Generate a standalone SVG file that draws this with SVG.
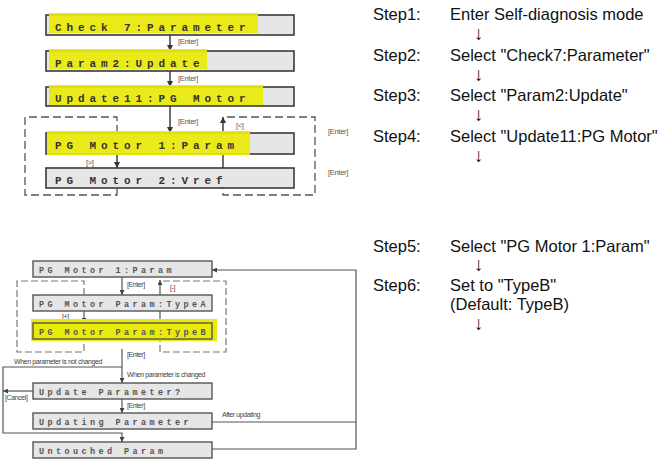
<svg xmlns="http://www.w3.org/2000/svg" width="670" height="460" viewBox="0 0 670 460">
<defs>
<marker id="ah" viewBox="0 0 8 8" refX="8" refY="4" markerWidth="6" markerHeight="6" markerUnits="userSpaceOnUse" orient="auto"><path d="M0,0 L8,4 L0,8 z" fill="#333"/></marker>
<marker id="ah2" viewBox="0 0 8 8" refX="8" refY="4" markerWidth="5" markerHeight="5" markerUnits="userSpaceOnUse" orient="auto"><path d="M0,0 L8,4 L0,8 z" fill="#444"/></marker>
</defs>
<style>
.bg{fill:#ffffff}
.box{fill:#e6e6e6;stroke:#3a3a3a;stroke-width:1.6}
.box2{fill:#e6e6e6;stroke:#555;stroke-width:1.4}
.hl{fill:#eaea0a;opacity:0.92}
.lcd{font-family:"Liberation Mono","DejaVu Sans Mono",monospace;font-weight:bold;font-size:11px;letter-spacing:4.9px;fill:#333}
.lcd2{font-family:"Liberation Mono","DejaVu Sans Mono",monospace;font-weight:bold;font-size:8.5px;letter-spacing:3.4px;fill:#555}
.ln{fill:none;stroke:#333;stroke-width:1.4}
.ln2{fill:none;stroke:#555;stroke-width:1.2}
.dash{fill:none;stroke:#555;stroke-width:1.3;stroke-dasharray:8 4}
.dash2{fill:none;stroke:#777;stroke-width:1.2;stroke-dasharray:7 3}
.lab{font-family:"Liberation Sans",Arial,sans-serif;font-size:7.5px;fill:#555;letter-spacing:-0.3px}
.lab2{font-family:"Liberation Sans",Arial,sans-serif;font-size:7px;fill:#444;letter-spacing:-0.4px}
.step{font-family:"Liberation Sans",Arial,sans-serif;font-size:16.5px;fill:#111}
.arr{font-family:"Liberation Sans",Arial,sans-serif;font-size:19px;fill:#111}
</style>
<rect class="bg" x="0" y="0" width="670" height="460"/>

<!-- top connectors -->
<g id="connectors-top">
<path class="ln" d="M170,35 V51" marker-end="url(#ah)"/>
<path class="ln" d="M170,71 V87" marker-end="url(#ah)"/>
<path class="ln" d="M170,106 V133" marker-end="url(#ah)"/>
<path class="ln" d="M223,133 V117" marker-end="url(#ah)"/>
<path class="ln" d="M223,154 V168"/>
<path class="dash" d="M227,117 H315 V195 H223 V188"/>
<path class="ln" d="M117,154 V168" marker-end="url(#ah)"/>
<path class="dash" d="M117,133 V117 H25 V195 H117 V188"/>
<text class="lab" x="178" y="44">[Enter]</text>
<text class="lab" x="178" y="81">[Enter]</text>
<text class="lab" x="178" y="124">[Enter]</text>
<text class="lab" x="236" y="128">[&lt;]</text>
<text class="lab" x="86" y="165">[&gt;]</text>
<text class="lab" x="328" y="134">[Enter]</text>
<text class="lab" x="328" y="175">[Enter]</text>
</g>

<g id="n-check7">
<rect class="box" x="46" y="15" width="248" height="20"/>
<rect class="hl" x="49" y="13" width="209" height="20"/>
<text class="lcd" x="55" y="31">Check 7:Parameter</text>
</g>
<g id="n-param2">
<rect class="box" x="46" y="51" width="248" height="20"/>
<rect class="hl" x="49" y="49" width="158" height="20"/>
<text class="lcd" x="55" y="67">Param2:Update</text>
</g>
<g id="n-update11">
<rect class="box" x="46" y="87" width="248" height="19"/>
<rect class="hl" x="49" y="85" width="214" height="20"/>
<text class="lcd" x="55" y="102">Update11:PG Motor</text>
</g>
<g id="n-pgmotor1">
<rect class="box" x="46" y="133" width="248" height="21"/>
<rect class="hl" x="47" y="131" width="203" height="24"/>
<text class="lcd" x="55" y="149">PG Motor 1:Param</text>
</g>
<g id="n-pgmotor2">
<rect class="box" x="46" y="168" width="248" height="20"/>
<text class="lcd" x="55" y="184">PG Motor 2:Vref</text>
</g>

<!-- bottom connectors -->
<g id="connectors-bottom">
<path class="ln2" d="M122,277 V295" marker-end="url(#ah2)"/>
<path class="ln2" d="M160,295 V280" marker-end="url(#ah2)"/>
<path class="ln2" d="M160,311 V323"/>
<path class="dash2" d="M163,281 H226 V352 H160 V339"/>
<path class="ln2" d="M84,311 V323" marker-end="url(#ah2)"/>
<path class="dash2" d="M84,295 V281 H17 V352 H84 V339"/>
<path class="ln2" d="M122,349 V383" marker-end="url(#ah2)"/>
<path class="ln2" d="M122,367 H3 V433 H122 V442" marker-end="url(#ah2)"/>
<path class="ln2" d="M33,391 H3" marker-end="url(#ah2)"/>
<path class="ln2" d="M122,399 V413" marker-end="url(#ah2)"/>
<path class="ln2" d="M212,422 H356"/>
<path class="ln2" d="M212,449 H356 V270 H212" marker-end="url(#ah2)"/>
<text class="lab2" x="127" y="287">[Enter]</text>
<text class="lab2" x="170" y="290">[-]</text>
<text class="lab2" x="62" y="319">[+]</text>
<text class="lab2" x="127" y="357">[Enter]</text>
<text class="lab2" x="14" y="364">When parameter is not changed</text>
<text class="lab2" x="127" y="377">When parameter is changed</text>
<text class="lab2" x="5" y="400">[Cancel]</text>
<text class="lab2" x="127" y="408">[Enter]</text>
<text class="lab2" x="222" y="417">After updating</text>
</g>

<g id="b-pgmotor1">
<rect class="box2" x="33" y="261" width="179" height="16"/>
<text class="lcd2" x="39" y="273">PG Motor 1:Param</text>
</g>
<g id="b-typea">
<rect class="box2" x="33" y="295" width="179" height="16"/>
<text class="lcd2" x="39" y="307">PG Motor Param:TypeA</text>
</g>
<g id="b-typeb">
<rect x="31" y="319" width="186" height="22" fill="#eaea0a"/>
<rect x="33" y="323" width="179" height="16" fill="#eaea0a" stroke="#555" stroke-width="1.4"/>
<text class="lcd2" x="39" y="335">PG Motor Param:TypeB</text>
</g>
<g id="b-updateq">
<rect class="box2" x="33" y="383" width="179" height="16"/>
<text class="lcd2" x="39" y="395">Update Parameter?</text>
</g>
<g id="b-updating">
<rect class="box2" x="33" y="413" width="179" height="16"/>
<text class="lcd2" x="39" y="425">Updating Parameter</text>
</g>
<g id="b-untouched">
<rect class="box2" x="33" y="442" width="179" height="16"/>
<text class="lcd2" x="39" y="454">Untouched Param</text>
</g>

<!-- steps -->
<g id="steps-top">
<text class="step" x="373" y="20">Step1:</text>
<text class="step" x="450" y="20">Enter Self-diagnosis mode</text>
<text class="arr" x="474" y="40">↓</text>
<text class="step" x="373" y="61">Step2:</text>
<text class="step" x="450" y="61">Select "Check7:Parameter"</text>
<text class="arr" x="474" y="81">↓</text>
<text class="step" x="373" y="101">Step3:</text>
<text class="step" x="450" y="101">Select "Param2:Update"</text>
<text class="arr" x="474" y="121">↓</text>
<text class="step" x="373" y="142">Step4:</text>
<text class="step" x="450" y="142">Select "Update11:PG Motor"</text>
<text class="arr" x="474" y="162">↓</text>
</g>
<g id="steps-bottom">
<text class="step" x="373" y="252">Step5:</text>
<text class="step" x="450" y="252">Select "PG Motor 1:Param"</text>
<text class="arr" x="474" y="271">↓</text>
<text class="step" x="373" y="291">Step6:</text>
<text class="step" x="450" y="291">Set to "TypeB"</text>
<text class="step" x="450" y="310">(Default: TypeB)</text>
<text class="arr" x="474" y="330">↓</text>
</g>
</svg>
